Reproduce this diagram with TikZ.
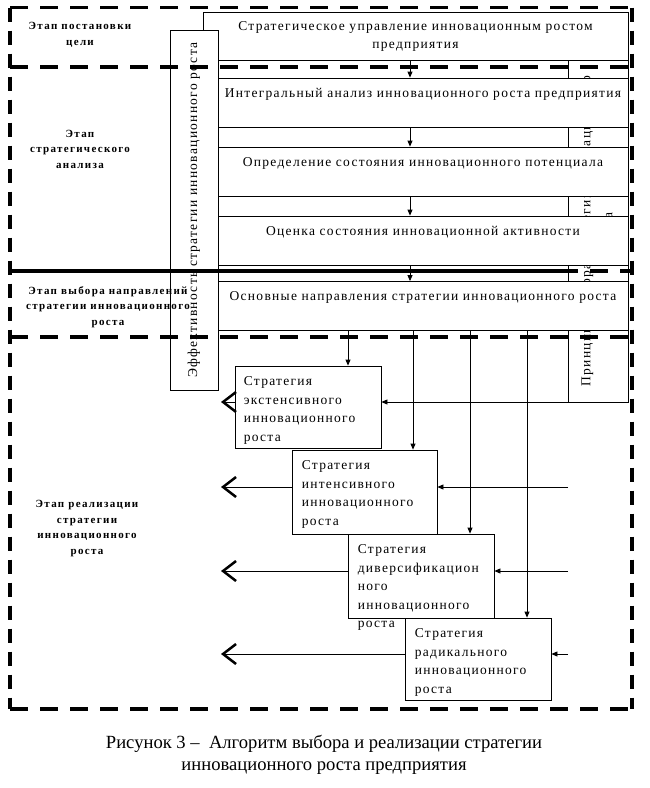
\documentclass[tikz,border=0pt]{standalone}
\usepackage{fontspec}
\setmainfont{Liberation Serif}
\newfontfamily\boxfont[LetterSpace=9.5]{Liberation Serif}
\newfontfamily\stagefont[LetterSpace=12]{Liberation Serif}
\usetikzlibrary{arrows.meta,positioning}
\begin{document}
\begin{tikzpicture}[
        x = 1pt,
        y = -1pt,
        box/.style = {draw, line width=0.8pt, inner sep=0pt},
        whitebox/.style = {box, fill=white},
        procbox/.style = {whitebox, minimum width=410pt, inner ysep=3pt,
          text height=16pt, text depth=27pt,
          font=\boxfont\fontsize{13.5}{16}\selectfont},
        vbox/.style = {whitebox, rotate=90, align=center,
          font=\boxfont\fontsize{13.5}{22}\selectfont},
        stratbox/.style = {box, minimum width=146pt},
        strattext/.style = {inner sep=0pt, align=left,
          font=\boxfont\fontsize{13.5}{18.5}\selectfont},
        stage/.style = {align=center,
          font=\stagefont\bfseries\fontsize{11}{15.5}\selectfont},
        arr/.style = {-{Triangle[length=6pt,width=5pt]}, line width=0.8pt},
        outarr/.style = {-{Straight Barb[length=13pt,width=20pt,line width=2.5pt]},
          line width=0.8pt},
        stageline/.style = {line width=3.5pt, dash pattern=on 18pt off 12pt},
        stagevline/.style = {line width=3.5pt, dash pattern=on 14pt off 9pt}]
      \useasboundingbox (0,0) rectangle (649,788);
      % goal and analysis boxes
      \node[whitebox, minimum width=425pt, minimum height=48pt, align=center,
        font=\boxfont\fontsize{13.5}{18}\selectfont] (goal) at (415.5,36)
        {Стратегическое управление инновационным ростом\\предприятия};
      \node[vbox, minimum width=342pt, minimum height=60pt] (princ) at (598,231)
        {Принципы выбора стратегии инновационного\\роста};
      \node[procbox] (integ) at (423,102.5)
        {Интегральный анализ инновационного роста предприятия};
      \node[procbox] (potent) at (423,171.5)
        {Определение состояния инновационного потенциала};
      \node[procbox] (activ) at (423,240.5)
        {Оценка состояния инновационной активности};
      \node[procbox] (direct) at (423,306)
        {Основные направления стратегии инновационного роста};
      \node[vbox, minimum width=360pt, minimum height=48pt] (effect) at (194,210)
        {Эффективность стратегии инновационного роста};
      \coordinate (spine) at (410,0);
      \foreach \a/\b in {goal/integ, integ/potent, potent/activ, activ/direct}
        \draw[arr] (\a.south -| spine) -- (\b.north -| spine);
      % strategies
      \node[stratbox, minimum height=82pt] (sext) at (308,407) {};
      \node[stratbox, minimum height=84pt, minimum width=145pt] (sint) at (364.5,492) {};
      \node[stratbox, minimum height=84pt] (sdiv) at (421,576) {};
      \node[stratbox, minimum height=82pt] (srad) at (478,659) {};
      \node[strattext, below right=11pt and 9pt of sext.north west] (sext-t)
        {Стратегия\\экстенсивного\\инновационного\\роста};
      \node[strattext, below right=11pt and 10pt of sint.north west] (sint-t)
        {Стратегия\\интенсивного\\инновационного\\роста};
      \node[strattext, below right=11pt and 10pt of sdiv.north west] (sdiv-t)
        {Стратегия\\диверсификацион\\ного\\инновационного\\роста};
      \node[strattext, below right=11pt and 10pt of srad.north west] (srad-t)
        {Стратегия\\радикального\\инновационного\\роста};
      \coordinate (rside) at (568,0);
      \coordinate (lside) at (221,0);
      \foreach \s/\x in {sext/348, sint/413, sdiv/470, srad/527} {
        \coordinate (d\s) at (\x,0);
        \draw[arr] (direct.south -| d\s) -- (\s.north -| d\s);
        \coordinate (in\s) at ([yshift=5pt]\s.east);
        \draw[arr] (in\s -| rside) -- (in\s);
        \draw[outarr] ([yshift=5pt]\s.west) -- (in\s -| lside);
      }
      % stages
      \node[stage] (stage1) at (80,35) {Этап постановки\\цели};
      \node[stage] (stage2) at (80,149) {Этап\\стратегического\\анализа};
      \node[stage] (stage3) at (108,307)
        {Этап выбора направлений\\стратегии инновационного\\роста};
      \node[stage] (stage4) at (87,528.5)
        {Этап реализации\\стратегии\\инновационного\\роста};
      \foreach \y in {7.5, 67, 337, 709}
        \draw[stageline] (10,\y) -- (632,\y);
      \draw[stagevline] (10,7.5) -- (10,709);
      \draw[stagevline] (632,7.5) -- (632,709);
      \draw[line width=3.5pt] (10,271) -- (560,271);
      \draw[stageline] (560,271) -- (632,271);
      % caption
      \node[align=center, font=\fontsize{18.6}{22}\selectfont] (caption) at (324,755)
        {Рисунок 3 –\ \ Алгоритм выбора и реализации стратегии\\инновационного роста предприятия};
    \end{tikzpicture}
\end{document}
